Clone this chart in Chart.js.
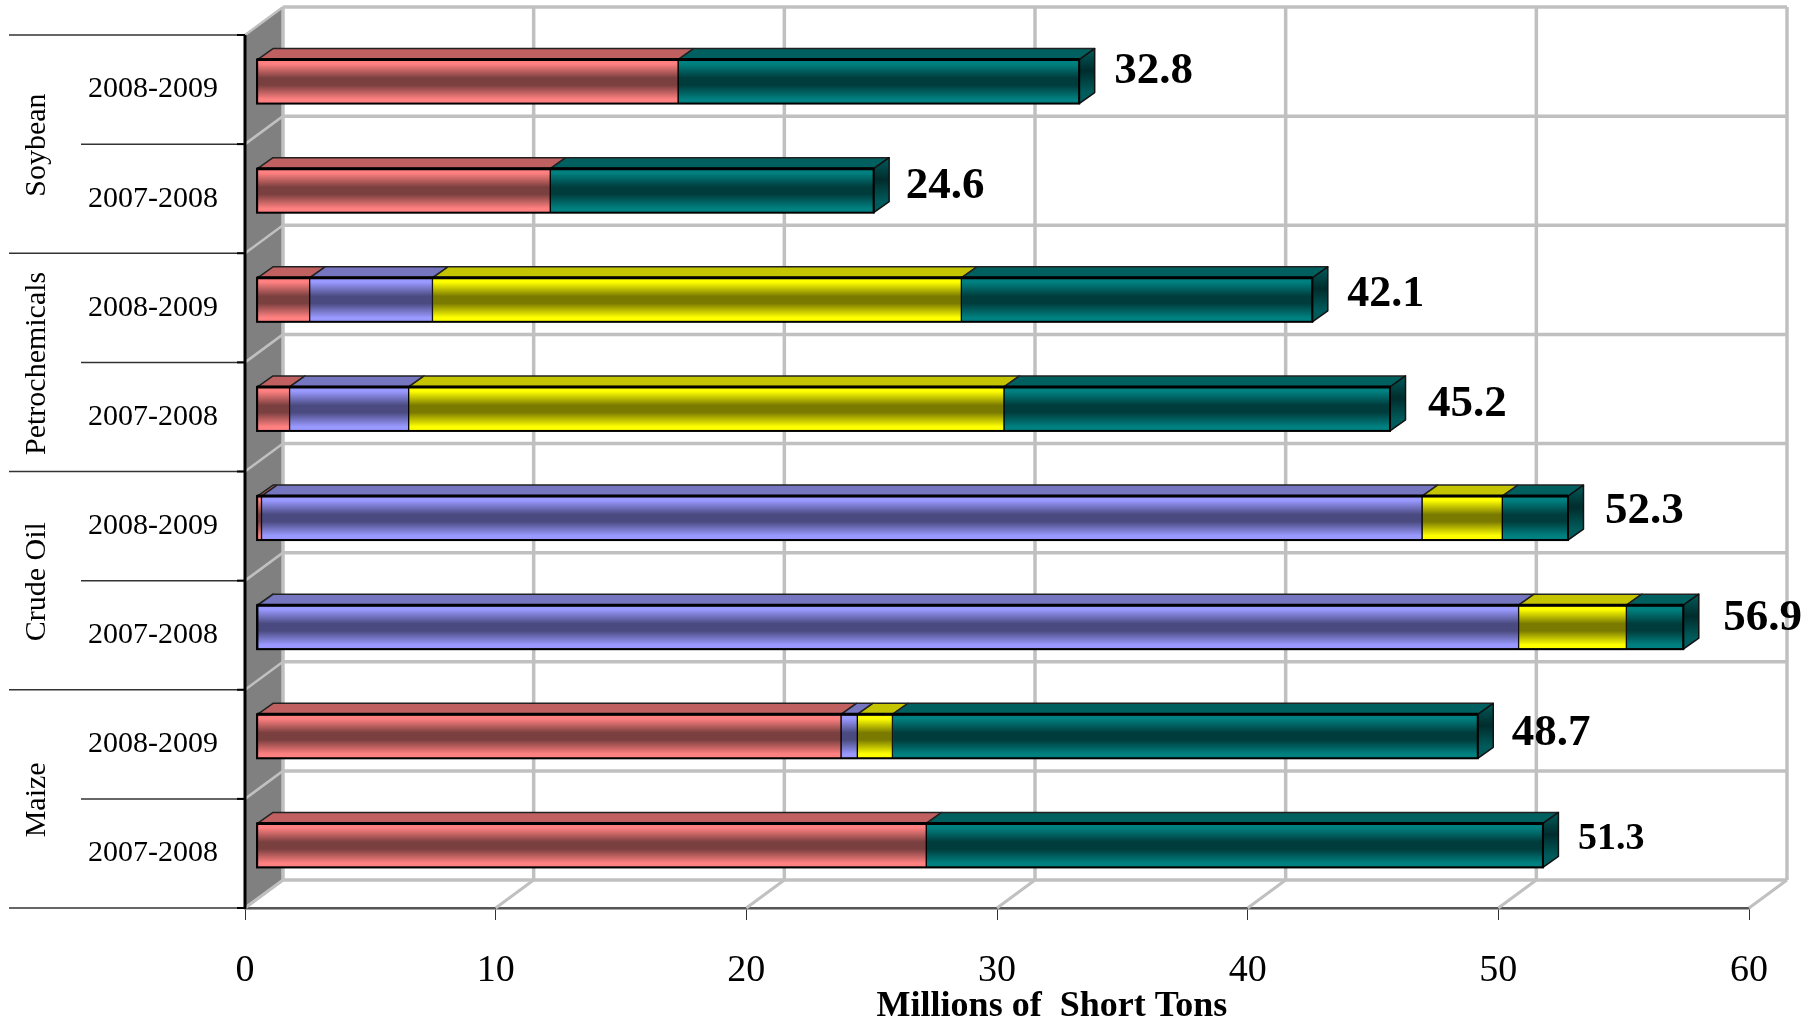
<!DOCTYPE html>
<html>
<head>
<meta charset="utf-8">
<title>Millions of Short Tons</title>
<style>
    html, body { margin: 0; padding: 0; background: #fff; }
    canvas { display: block; }
</style>
<script src="https://cdn.jsdelivr.net/npm/chart.js@4"></script>
</head>
<body>
<canvas id="chart" width="1815" height="1022"></canvas>
<script>
const categories = ['2008-2009', '2007-2008', '2008-2009', '2007-2008', '2008-2009', '2007-2008', '2008-2009', '2007-2008']
const groups = ['Soybean', 'Petrochemicals', 'Crude Oil', 'Maize']
const xTicks = [0, 10, 20, 30, 40, 50, 60]

const redValues = [16.8, 11.7, 2.1, 1.3, 0.18, 0.03, 23.3, 26.7]
const blueValues = [0, 0, 4.9, 4.75, 46.3, 50.3, 0.65, 0]
const yellowValues = [0, 0, 21.1, 23.75, 3.2, 4.3, 1.4, 0]
const tealValues = [16.0, 12.9, 14.0, 15.4, 2.62, 2.27, 23.35, 24.6]
const totals = [32.8, 24.6, 42.1, 45.2, 52.3, 56.9, 48.7, 51.3]

// label sizes and nudges, the labels were hand placed in the original
const labelSizes = [45, 45, 44, 45, 45, 45, 45, 38]
const labelNudgeX = [35, 32, 35, 38, 37, 40, 34, 35]
const labelNudgeY = [-18, -12, -13, -13, -15, -17, -11, -14]

const wallDx = 38, wallDy = -28
const barDx = 12, barDy = -8
const topDx = 15.5, topDy = -11
const barHeight = 44
const gridColor = '#c0c0c0'

const colors = [
    {bright: '#ff8080', dark: '#7a3f3f', top: '#c06060', name: 'Red series', values: redValues},
    {bright: '#9999ff', dark: '#4a4a80', top: '#7575c0', name: 'Blue series', values: blueValues},
    {bright: '#ffff00', dark: '#7a7a00', top: '#c4c400', name: 'Yellow series', values: yellowValues},
    {bright: '#008080', dark: '#003c3c', top: '#006060', name: 'Teal series', values: tealValues},
]

const barGradient = (c, top, color1, color2) => {
    const g = c.createLinearGradient(0, top, 0, top + barHeight)
    g.addColorStop(0, color1)
    g.addColorStop(0.1, color1)
    g.addColorStop(0.42, color2)
    g.addColorStop(0.58, color2)
    g.addColorStop(0.9, color1)
    g.addColorStop(1, color1)
    return g
}

const line = (c, x1, y1, x2, y2, color, width) => {
    c.strokeStyle = color
    c.lineWidth = width
    c.beginPath()
    c.moveTo(x1, y1)
    c.lineTo(x2, y2)
    c.stroke()
}

const poly = (c, pts, fill, stroke, width) => {
    c.beginPath()
    pts.forEach((p, i) => i === 0 ? c.moveTo(p[0], p[1]) : c.lineTo(p[0], p[1]))
    c.closePath()
    c.fillStyle = fill
    c.fill()
    c.strokeStyle = stroke
    c.lineWidth = width
    c.lineJoin = 'round'
    c.stroke()
}

const walls3d = {
    id: 'walls3d',
    beforeDatasetsDraw(chart) {
        const c = chart.ctx
        const {x, y} = chart.scales
        const left = x.getPixelForValue(0), right = x.getPixelForValue(60)
        const top = y.getPixelForValue(-0.5), bottom = y.getPixelForValue(categories.length - 0.5)
        c.save()
        // side wall
        c.fillStyle = '#808080'
        c.beginPath()
        c.moveTo(left, top)
        c.lineTo(left + wallDx, top + wallDy)
        c.lineTo(left + wallDx, bottom + wallDy)
        c.lineTo(left, bottom)
        c.closePath()
        c.fill()
        // back wall grid and the floor
        for (let i = 0; i <= categories.length; i++) {
            const py = y.getPixelForValue(i - 0.5)
            line(c, left + wallDx, py + wallDy, right + wallDx, py + wallDy, gridColor, 3.5)
            line(c, left, py, left + wallDx, py + wallDy, gridColor, 2.5)
        }
        for (let v of xTicks) {
            const px = x.getPixelForValue(v)
            line(c, px + wallDx, top + wallDy, px + wallDx, bottom + wallDy, gridColor, 3.5)
            line(c, px, bottom, px + wallDx, bottom + wallDy, gridColor, 3)
        }
        line(c, left, top, left, bottom + 1, '#000', 3)
        // tick rows on the left, longer where a group ends
        for (let i = 0; i <= categories.length; i++) {
            const py = y.getPixelForValue(i - 0.5)
            line(c, i % 2 === 0 ? 9 : 81, py, left, py, '#333', 1.5)
            line(c, left - 8, py, left, py, '#000', 2)
        }
        // top of each block then the end cap
        chart.getSortedVisibleDatasetMetas().forEach((meta) => {
            const isLast = meta.index === colors.length - 1
            meta.data.forEach((el, i) => {
                if (colors[meta.index].values[i] <= 0) return
                const p = el.getProps(['x', 'y', 'base'], true)
                const x0 = p.base + barDx, x1 = p.x + barDx
                const t = p.y + barDy - barHeight / 2
                poly(c, [[x0, t], [x1, t], [x1 + topDx, t + topDy], [x0 + topDx, t + topDy]],
                    colors[meta.index].top, '#222', 1.5)
                if (isLast) {
                    const g = c.createLinearGradient(0, t + topDy, 0, t + topDy + barHeight)
                    g.addColorStop(0, '#005c5c')
                    g.addColorStop(0.5, '#002c2c')
                    g.addColorStop(1, '#005c5c')
                    poly(c, [[x1, t], [x1 + topDx, t + topDy], [x1 + topDx, t + topDy + barHeight], [x1, t + barHeight]],
                        g, '#111', 1.5)
                }
            })
        })
        c.restore()
    },
    beforeDatasetDraw(chart) {
        chart.ctx.save()
        chart.ctx.translate(barDx, barDy)
    },
    afterDatasetDraw(chart) {
        chart.ctx.restore()
    },
    afterDatasetsDraw(chart) {
        const c = chart.ctx
        const {x, y} = chart.scales
        c.save()
        // outline of the whole front
        categories.forEach((label, i) => {
            const cy = y.getPixelForValue(i) + barDy
            const x0 = x.getPixelForValue(0) + barDx, x1 = x.getPixelForValue(totals[i]) + barDx
            c.strokeStyle = '#000'
            c.lineWidth = 2
            c.strokeRect(x0, cy - barHeight / 2, x1 - x0, barHeight)
            line(c, x0, cy - barHeight / 2, x1, cy - barHeight / 2, '#000', 3)
        })
        // totals
        c.fillStyle = '#000'
        c.textAlign = 'left'
        c.textBaseline = 'middle'
        totals.forEach((v, i) => {
            c.font = `bold ${labelSizes[i]}px "Liberation Serif"`
            c.fillText(v.toFixed(1), x.getPixelForValue(v) + labelNudgeX[i] + barDx, y.getPixelForValue(i) + labelNudgeY[i])
        })
        // group labels
        c.font = '30px "Liberation Serif"'
        c.textAlign = 'center'
        groups.forEach((g, i) => {
            c.save()
            c.translate(37, y.getPixelForValue(i * 2 + 0.5) + 1)
            c.rotate(-Math.PI / 2)
            c.fillText(g, 0, 0)
            c.restore()
        })
        // axis title, sits right of the axis middle
        c.font = 'bold 36px "Liberation Serif"'
        c.fillText('Millions of  Short Tons', 1052, 1007)
        c.restore()
    },
}

new Chart(document.getElementById('chart'), {
    type: 'bar',
    data: {
        labels: categories,
        datasets: colors.map((col) => ({
            label: col.name,
            data: col.values,
            borderColor: '#000',
            borderWidth: 1,
            borderSkipped: false,
            barThickness: barHeight,
            clip: false,
            backgroundColor: (ctx) => {
                const {chart, dataIndex} = ctx
                if (!chart.chartArea || dataIndex === undefined) return col.bright
                const top = chart.scales.y.getPixelForValue(dataIndex) - barHeight / 2
                return barGradient(chart.ctx, top, col.bright, col.dark)
            },
        })),
    },
    options: {
        indexAxis: 'y',
        responsive: false,
        animation: false,
        devicePixelRatio: 1,
        layout: {padding: {top: 35, right: 66, bottom: 0, left: 0}},
        plugins: {legend: {display: false}, tooltip: {enabled: false}, title: {display: false}},
        scales: {
            x: {
                stacked: true,
                min: 0,
                max: 60,
                afterFit: (scale) => { scale.height = 114; scale.paddingTop = 0; scale.paddingBottom = 0 },
                afterBuildTicks: (scale) => { scale.ticks = xTicks.map((v) => ({value: v})) },
                grid: {drawOnChartArea: false, tickLength: 12, color: '#333'},
                border: {color: '#555', width: 2.5},
                ticks: {color: '#000', padding: 28, maxRotation: 0, font: {family: '"Liberation Serif"', size: 38}},
            },
            y: {
                stacked: true,
                afterFit: (scale) => { scale.width = 245; scale.paddingTop = 0; scale.paddingBottom = 0 },
                grid: {display: false},
                border: {display: false},
                ticks: {color: '#000', padding: 19, crossAlign: 'near', font: {family: '"Liberation Serif"', size: 30}},
            },
        },
    },
    plugins: [walls3d],
})
</script>
</body>
</html>
